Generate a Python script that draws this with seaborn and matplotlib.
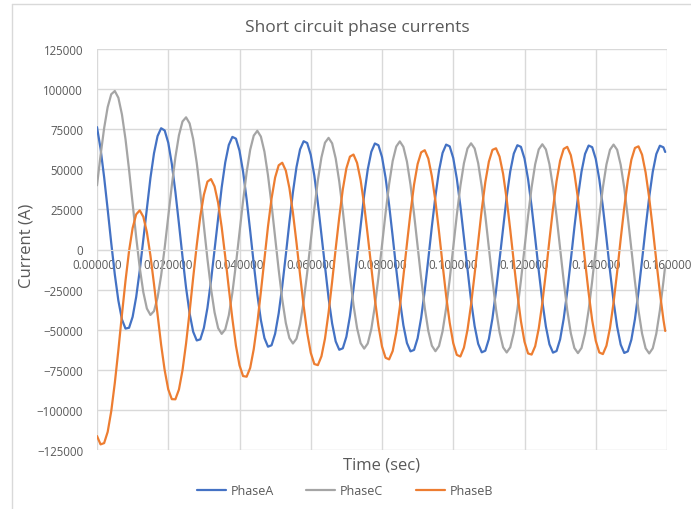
import numpy as np
import pandas as pd
import matplotlib
matplotlib.use("Agg")
import matplotlib.pyplot as plt
from matplotlib.lines import Line2D
from matplotlib.ticker import StrMethodFormatter
import seaborn as sns

# time axis (sec) - 1 ms samples, last sample just before 0.16
time = [round(i * 0.001, 4) for i in range(160)] + [0.1595]

# phase currents (A)
phase_a = [
    76300, 62800, 45100, 24900, 4000, -15600, -31900, -43600, -49300, -48800,
    -42000, -29600, -13000, 6200, 26000, 44600, 60000, 70700, 75600, 74200,
    66600, 53400, 36000, 16100, -4500, -23800, -39900, -51300, -56700, -56000,
    -48900, -36400, -19500, -100, 19900, 38700, 54300, 65200, 70200, 69100,
    61600, 48600, 31300, 11600, -8900, -28000, -44000, -55200, -60600, -59700,
    -52500, -39800, -22900, -3400, 16800, 35700, 51400, 62400, 67500, 66400,
    59000, 46100, 28900, 9200, -11100, -30200, -46100, -57300, -62500, -61600,
    -54400, -41600, -24600, -5000, 15200, 34100, 49900, 60900, 66100, 65000,
    57700, 44800, 27700, 8100, -12300, -31300, -47200, -58300, -63500, -62600,
    -55300, -42500, -25500, -5900, 14400, 33300, 49100, 60200, 65400, 64300,
    57000, 44200, 27100, 7400, -12900, -31900, -47700, -58800, -64100, -63100,
    -55800, -43000, -25900, -6300, 13900, 32900, 48700, 59800, 65000, 64000,
    56700, 43900, 26700, 7100, -13200, -32200, -48000, -59100, -64300, -63300,
    -56000, -43200, -26200, -6600, 13700, 32700, 48500, 59600, 64800, 63800,
    56500, 43700, 26600, 7000, -13300, -32300, -48100, -59300, -64500, -63500,
    -56200, -43400, -26300, -6700, 13600, 32600, 48400, 59500, 64700, 63700,
    60800,
]

phase_b = [
    -116300, -121500, -120700, -113700, -100800, -83200, -62700, -40600, -19500, -900,
    13400, 21900, 24400, 20400, 10800, -3800, -21600, -40700, -59400, -75300,
    -87200, -93300, -93400, -87300, -75300, -58600, -38700, -17500, 2700, 20700,
    34100, 42300, 43900, 39300, 29100, 13900, -4500, -24200, -43200, -60000,
    -72200, -78900, -79300, -73800, -62100, -46000, -26400, -5800, 14400, 31800,
    44900, 52500, 54100, 49200, 38400, 22900, 4200, -15800, -35100, -51900,
    -64400, -71400, -72100, -66600, -55500, -39400, -20100, 500, 20100, 37500,
    50600, 57900, 59200, 54000, 43200, 27700, 8700, -11300, -30900, -47700,
    -60500, -67500, -68500, -63300, -51900, -36100, -16800, 3500, 23100, 40500,
    53300, 60600, 61900, 56700, 45600, 30100, 11100, -9200, -28800, -45600,
    -58400, -65700, -66700, -61200, -50100, -34300, -15300, 5000, 24900, 42000,
    54800, 62100, 63100, 57900, 47100, 31300, 12300, -8000, -27600, -44700,
    -57500, -64800, -65500, -60300, -49200, -33400, -14400, 5900, 25500, 42600,
    55400, 62700, 64000, 58800, 47700, 31900, 12900, -7400, -27000, -44100,
    -56900, -64200, -65200, -60000, -48900, -33100, -14100, 6500, 26100, 43200,
    56000, 63300, 64300, 59100, 48000, 32200, 13200, -7100, -26700, -43800,
    -50800,
]

phase_c = [
    40000, 58700, 75600, 88800, 96800, 98800, 94600, 84200, 68800, 49700,
    28600, 7700, -11400, -26600, -36800, -40800, -38400, -30000, -16200, 1100,
    20600, 39900, 57400, 71200, 79800, 82400, 78600, 68800, 54000, 35300,
    14800, -5900, -24400, -39200, -49000, -52600, -49800, -41000, -27000, -9100,
    10600, 30300, 48000, 62200, 71000, 74000, 70400, 61000, 46200, 27900,
    7600, -12700, -31200, -45800, -55200, -58600, -55600, -46600, -32400, -14500,
    5400, 25300, 43200, 57400, 66600, 69600, 66200, 56800, 42400, 24100,
    3800, -16300, -34600, -49000, -58400, -61800, -58600, -49600, -35200, -17300,
    2800, 22700, 40800, 55200, 64200, 67400, 64000, 54800, 40400, 22100,
    2000, -18100, -36400, -50800, -60000, -63400, -60200, -51000, -36600, -18700,
    1400, 21500, 39600, 53800, 63000, 66200, 63000, 53800, 39200, 21100,
    1000, -19100, -37200, -51600, -61000, -64200, -61000, -51800, -37400, -19300,
    800, 20900, 38800, 53200, 62400, 65600, 62400, 53200, 38800, 20700,
    600, -19500, -37800, -52200, -61400, -64600, -61400, -52200, -37800, -19700,
    400, 20500, 38600, 53000, 62200, 65400, 62200, 52800, 38400, 20300,
    200, -19900, -38000, -52400, -61600, -64800, -61600, -52400, -38000, -19900,
    -10000,
]

phase_names = ["PhaseA", "PhaseC", "PhaseB"]
colors = {"PhaseA": "#4472C4", "PhaseC": "#A5A5A5", "PhaseB": "#ED7D31"}

# long format pour seaborn
df = pd.concat([
    pd.DataFrame({"Time": time, "Current": phase_a, "Phase": "PhaseA"}),
    pd.DataFrame({"Time": time, "Current": phase_c, "Phase": "PhaseC"}),
    pd.DataFrame({"Time": time, "Current": phase_b, "Phase": "PhaseB"}),
], ignore_index=True)

sns.set_style("white")
plt.rcParams["font.family"] = ["Open Sans", "DejaVu Sans"]
txt = "#595959"
grid_col = "#D9D9D9"

fig = plt.figure(figsize=(6.91, 5.10), dpi=100)
ax = fig.add_axes([97 / 691, 1 - 451 / 510, 570 / 691, 401 / 510])

sns.lineplot(data=df, x="Time", y="Current", hue="Phase", hue_order=phase_names,
             palette=colors, linewidth=1.6, estimator=None, ax=ax, legend=False)

ax.set_xlim(0, 0.16)
ax.set_ylim(-125000, 125000)
ax.set_xticks(np.arange(0, 0.1601, 0.02))
ax.set_yticks(np.arange(-125000, 125001, 25000))
ax.xaxis.set_major_formatter(StrMethodFormatter("{x:.6f}"))
ax.yaxis.set_major_formatter(StrMethodFormatter("{x:.0f}"))

ax.grid(True, color=grid_col, linewidth=1.0)
ax.set_axisbelow(True)
for s in ["top", "right", "left"]:
    ax.spines[s].set_visible(False)
ax.spines["bottom"].set_position(("data", 0))
ax.spines["bottom"].set_color(grid_col)
ax.tick_params(axis="x", length=0, pad=6, labelsize=8.3, labelcolor=txt)
ax.tick_params(axis="y", length=0, pad=10, labelsize=8.3, labelcolor=txt)

ax.set_xlabel("")
ax.set_ylabel("")
fig.text(382 / 691, 1 - 466 / 510, "Time (sec)", ha="center", va="center",
         fontsize=12, color=txt)
fig.text(27 / 691, 1 - 246 / 510, "Current (A)", ha="center", va="center",
         rotation=90, fontsize=12, color=txt)
fig.text(357 / 691, 1 - 28 / 510, "Short circuit phase currents", ha="center",
         va="center", fontsize=12.5, color=txt)

handles = [Line2D([0], [0], color=colors[n], linewidth=1.6) for n in phase_names]
fig.legend(handles, phase_names, loc="center", bbox_to_anchor=(345 / 691, 1 - 492 / 510),
           ncol=3, frameon=False, fontsize=9, labelcolor=txt, handlelength=2.3,
           handletextpad=0.4, columnspacing=2.6)

# chart border
fig.add_artist(Line2D([12 / 691, 12 / 691], [0, 1 - 5 / 510], color=grid_col, linewidth=1))
fig.add_artist(Line2D([12 / 691, 1], [1 - 5 / 510, 1 - 5 / 510], color=grid_col, linewidth=1))

fig.savefig("out.png", dpi=100)
